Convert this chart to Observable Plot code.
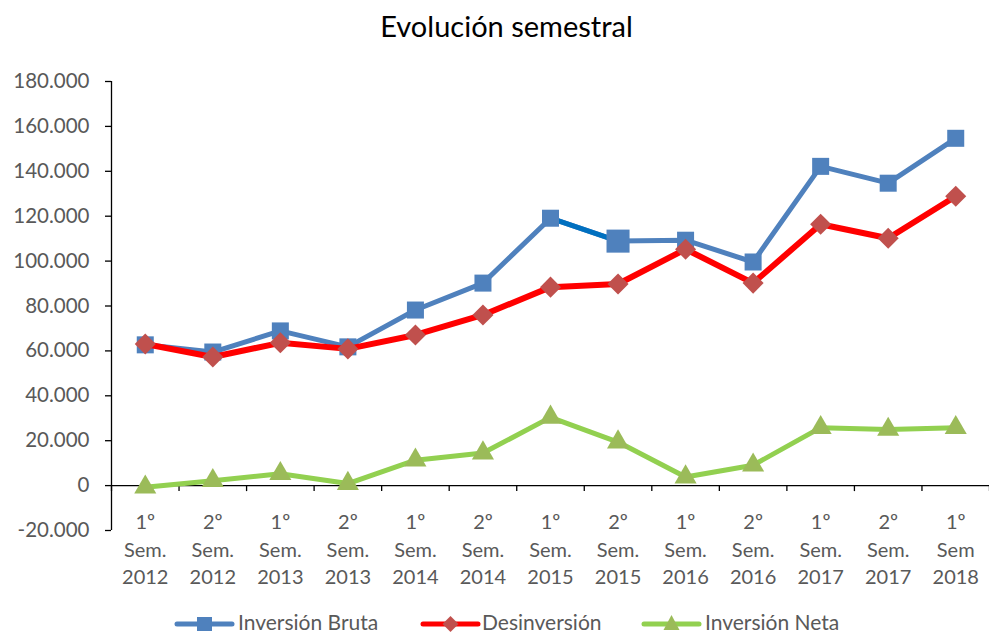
<!DOCTYPE html>
<html>
<head>
<meta charset="utf-8">
<script src="https://cdn.jsdelivr.net/npm/d3@7"></script>
<script src="https://cdn.jsdelivr.net/npm/@observablehq/plot@0.6"></script>
<style>
  html, body { margin: 0; padding: 0; background: #fff; }
  body { width: 989px; height: 635px; position: relative; font-family: Lato, "Open Sans", sans-serif; overflow: hidden; }
  #title { height: 60px; box-sizing: border-box; padding-left: 24px; text-align: center; font-size: 29px; line-height: 52px; color: #000; }
  #chart svg { display: block; overflow: visible; }
  #legend { position: absolute; left: 0; top: 600px; width: 989px; height: 35px; }
  #legend .txt { position: absolute; top: 12px; font-size: 21px; color: #595959; line-height: 20px; white-space: nowrap; }
</style>
</head>
<body>
<div id="title">Evolución semestral</div>
<div id="chart"></div>
<div id="legend"></div>
<script>
// ---- data ----
const periods = [
  "1º\nSem.\n2012", "2º\nSem.\n2012", "1º\nSem.\n2013", "2º\nSem.\n2013",
  "1º\nSem.\n2014", "2º\nSem.\n2014", "1º\nSem.\n2015", "2º\nSem.\n2015",
  "1º\nSem.\n2016", "2º\nSem.\n2016", "1º\nSem.\n2017", "2º\nSem.\n2017",
  "1º\nSem\n2018"
];
const inversionBruta = [62700, 59500, 68900, 61800, 78200, 90200, 119100, 108900, 109300, 99600, 142200, 134700, 154700];
const desinversion   = [63100, 57300, 63600, 60900, 67100, 76000, 88400, 89800, 105300, 90200, 116400, 110200, 128900];
const inversionNeta  = [-700, 2200, 5300, 900, 11300, 14500, 30400, 19400, 3800, 9100, 25800, 25000, 25800];
const yTicks = [-20000, 0, 20000, 40000, 60000, 80000, 100000, 120000, 140000, 160000, 180000];
const seriesNames = ["Inversión Bruta", "Desinversión", "Inversión Neta"];

// ---- table ----
const rows = periods.map((p, i) => ({i, p, b: inversionBruta[i], d: desinversion[i], n: inversionNeta[i]}));
const boundaries = d3.range(-0.5, periods.length, 1);
const fmt = v => v === 0 ? "0" : (v < 0 ? "-" : "") + d3.format(",")(Math.abs(v)).replace(/,/g, ".");

const BLUE = "#4F81BD", BLUE_DARK = "#0070C0", RED_LINE = "#FF0000", RED_MK = "#C0504D",
      GREEN_LINE = "#92D050", GREEN_MK = "#9BBB59";

const chart = Plot.plot({
  width: 989,
  height: 540,
  marginLeft: 111,
  marginRight: 0,
  marginTop: 21,
  marginBottom: 70,
  style: {fontFamily: "Lato, 'Open Sans', sans-serif", fontSize: "20px", color: "#595959", background: "white"},
  x: {type: "linear", domain: [-0.5, periods.length - 0.5], axis: null},
  y: {domain: [-20000, 180000]},
  marks: [
    Plot.axisY({ticks: yTicks, tickFormat: fmt, tickSize: 0, tickPadding: 22, fontSize: 20.5}),
    Plot.ruleX([-0.5], {y1: -20000, y2: 180000, stroke: "#000", strokeWidth: 1.3}),
    Plot.ruleY(yTicks, {x1: -0.5, x2: -0.5, insetLeft: -6, stroke: "#000", strokeWidth: 1.3}),
    Plot.ruleY([0], {x1: -0.5, x2: periods.length - 0.5, stroke: "#000", strokeWidth: 1.3}),
    Plot.ruleX(boundaries, {y1: 0, y2: 0, insetBottom: -6, stroke: "#000", strokeWidth: 1.3}),
    Plot.text(rows, {x: "i", y: 0, text: "p", lineAnchor: "top", dy: 24, lineHeight: 1.38, fontSize: 20, fill: "#595959"}),
    // Inversión Bruta
    Plot.line(rows, {x: "i", y: "b", stroke: BLUE, strokeWidth: 5}),
    Plot.line(rows.filter(r => r.i === 6 || r.i === 7), {x: "i", y: "b", stroke: BLUE_DARK, strokeWidth: 5}),
    Plot.dot(rows, {x: "i", y: "b", symbol: "square", r: 9.6, fill: BLUE, stroke: "none"}),
    Plot.dot(rows.filter(r => r.i === 7), {x: "i", y: "b", symbol: "square", r: 13, fill: BLUE, stroke: "none"}),
    // Desinversión
    Plot.line(rows, {x: "i", y: "d", stroke: RED_LINE, strokeWidth: 6}),
    Plot.dot(rows, {x: "i", y: "d", symbol: "square", r: 8.4, rotate: 45, fill: RED_MK, stroke: "none"}),
    // Inversión Neta
    Plot.line(rows, {x: "i", y: "n", stroke: GREEN_LINE, strokeWidth: 5}),
    Plot.dot(rows, {x: "i", y: "n", symbol: "triangle", r: 8.2, fill: GREEN_MK, stroke: "none"})
  ]
});
document.getElementById("chart").appendChild(chart);

// ---- legend ----
const legendItems = [
  {name: seriesNames[0], line: BLUE, mk: BLUE, sym: "square", x0: 177, x1: 232, tx: 238},
  {name: seriesNames[1], line: RED_LINE, mk: RED_MK, sym: "diamond", x0: 423, x1: 478, tx: 482},
  {name: seriesNames[2], line: GREEN_LINE, mk: GREEN_MK, sym: "triangle", x0: 644, x1: 699, tx: 705}
];
const legend = document.getElementById("legend");
const ns = "http://www.w3.org/2000/svg";
const lsvg = document.createElementNS(ns, "svg");
lsvg.setAttribute("width", 989); lsvg.setAttribute("height", 35);
lsvg.style.position = "absolute"; lsvg.style.left = "0"; lsvg.style.top = "0";
legend.appendChild(lsvg);
const cy = 24;
for (const it of legendItems) {
  const ln = document.createElementNS(ns, "line");
  ln.setAttribute("x1", it.x0); ln.setAttribute("x2", it.x1);
  ln.setAttribute("y1", cy); ln.setAttribute("y2", cy);
  ln.setAttribute("stroke", it.line); ln.setAttribute("stroke-width", 5); ln.setAttribute("stroke-linecap", "round");
  lsvg.appendChild(ln);
  const cx = (it.x0 + it.x1) / 2;
  const p = document.createElementNS(ns, "path");
  let d;
  if (it.sym === "square") d = `M${cx-7.5},${cy-7}h15v14h-15z`;
  else if (it.sym === "diamond") d = `M${cx},${cy-8}l8,8l-8,8l-8,-8z`;
  else d = `M${cx},${cy-9}l8,15h-16z`;
  p.setAttribute("d", d); p.setAttribute("fill", it.mk);
  lsvg.appendChild(p);
  const t = document.createElement("div");
  t.className = "txt"; t.style.left = it.tx + "px"; t.textContent = it.name;
  legend.appendChild(t);
}
</script>
</body>
</html>
